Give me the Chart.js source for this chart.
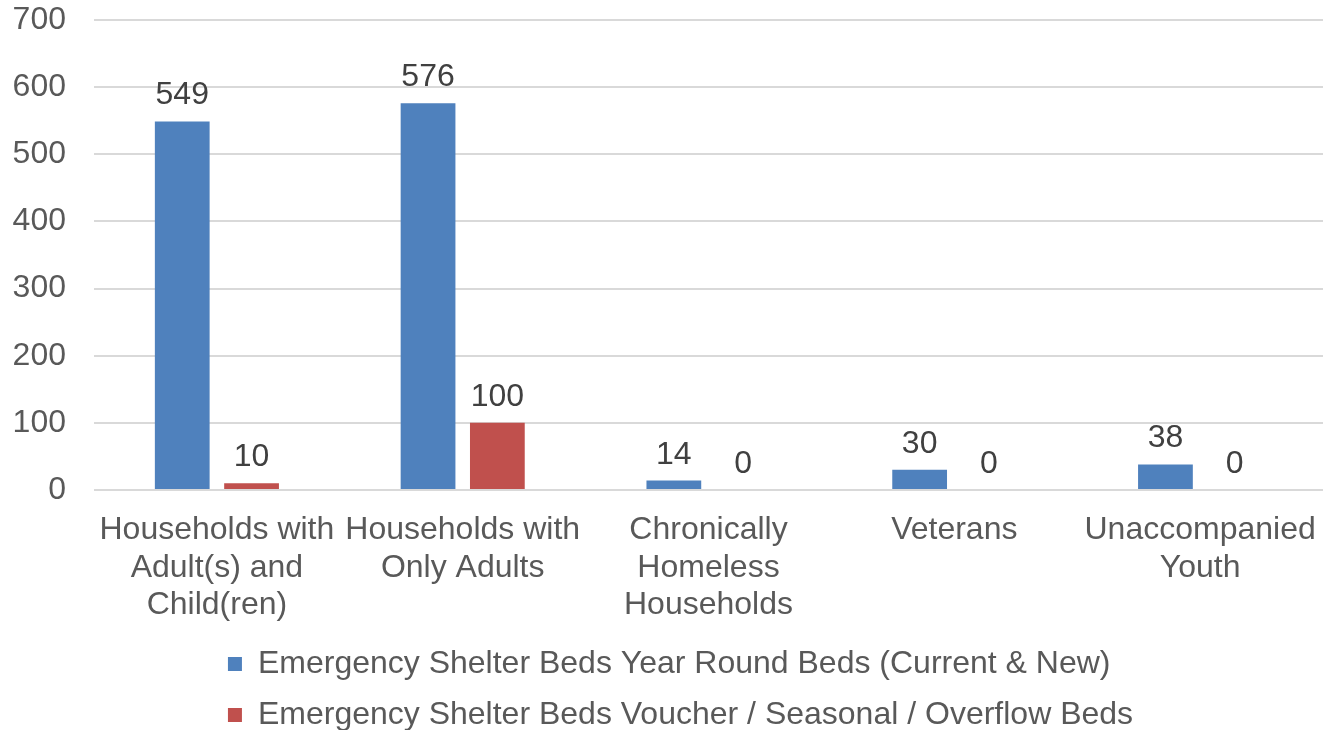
<!DOCTYPE html>
<html>
<head>
<meta charset="utf-8">
<title>Emergency Shelter Beds</title>
<script src="https://cdn.jsdelivr.net/npm/chart.js@4/dist/chart.umd.min.js"></script>
<style>
  html, body { margin: 0; padding: 0; background: #ffffff; }
  #wrap { width: 1325px; height: 730px; }
</style>
</head>
<body>
<div id="wrap"><canvas id="chart" width="1325" height="730"></canvas></div>
<script>
// Household categories (multi-line axis labels)
const categories = [
  ['Households with', 'Adult(s) and', 'Child(ren)'],
  ['Households with', 'Only Adults'],
  ['Chronically', 'Homeless', 'Households'],
  ['Veterans'],
  ['Unaccompanied', 'Youth']
];

const seriesNames = [
  'Emergency Shelter Beds Year Round Beds (Current & New)',
  'Emergency Shelter Beds Voucher / Seasonal / Overflow Beds'
];

const yearRoundBeds = [549, 576, 14, 30, 38];
const seasonalBeds = [10, 100, 0, 0, 0];

const yTicks = [0, 100, 200, 300, 400, 500, 600, 700];

const FONT = '"Liberation Sans", Arial, sans-serif';
const FONT_SIZE = 32;

// Writes each bar's value just above it
const valueLabels = {
  id: 'valueLabels',
  afterDatasetsDraw(chart) {
    const ctx = chart.ctx;
    ctx.save();
    ctx.font = FONT_SIZE + 'px ' + FONT;
    ctx.fillStyle = '#404040';
    ctx.textAlign = 'center';
    ctx.textBaseline = 'alphabetic';
    chart.data.datasets.forEach((ds, i) => {
      const meta = chart.getDatasetMeta(i);
      meta.data.forEach((bar, j) => {
        ctx.fillText(String(ds.data[j]), bar.x, bar.y - 17);
      });
    });
    ctx.restore();
  }
};

// Gives every legend row the same width so the rows share one left edge,
// and nudges the block a little to the right
const legendRows = {
  id: 'legendRows',
  afterLayout(chart) {
    const lg = chart.legend;
    if (lg && lg.lineWidths && lg.lineWidths.length) {
      const w = Math.max(...lg.lineWidths);
      lg.lineWidths = lg.lineWidths.map(() => w);
      lg.left += 19;
      lg.right += 19;
    }
  }
};

new Chart(document.getElementById('chart'), {
  type: 'bar',
  data: {
    labels: categories,
    datasets: [
      {
        label: seriesNames[0],
        data: yearRoundBeds,
        backgroundColor: '#4f81bd',
        categoryPercentage: 0.564,
        barPercentage: 0.79
      },
      {
        label: seriesNames[1],
        data: seasonalBeds,
        backgroundColor: '#c0504d',
        categoryPercentage: 0.564,
        barPercentage: 0.79
      }
    ]
  },
  options: {
    responsive: false,
    animation: false,
    layout: { padding: { left: 0, right: 2, top: 20, bottom: -11 } },
    scales: {
      x: {
        grid: { display: false, drawTicks: false },
        border: { display: false },
        ticks: {
          color: '#595959',
          font: { family: FONT, size: FONT_SIZE, lineHeight: 1.16 },
          padding: 22,
          maxRotation: 0,
          autoSkip: false
        },
        afterFit(scale) {
          scale.height = 139;
          scale.paddingLeft = 0;
          scale.paddingRight = 0;
        }
      },
      y: {
        min: 0,
        max: 700,
        afterBuildTicks(scale) {
          scale.ticks = yTicks.map(v => ({ value: v }));
        },
        grid: { color: '#d9d9d9', lineWidth: 2, drawTicks: false },
        border: { display: false },
        ticks: {
          color: '#595959',
          font: { family: FONT, size: FONT_SIZE },
          padding: 28
        },
        afterFit(scale) {
          scale.width = 94;
          scale.paddingTop = 0;
          scale.paddingBottom = 0;
        }
      }
    },
    plugins: {
      legend: {
        position: 'bottom',
        labels: {
          color: '#595959',
          font: { family: FONT, size: FONT_SIZE },
          boxWidth: 14,
          boxHeight: 14,
          padding: 19
        }
      },
      tooltip: { enabled: false }
    }
  },
  plugins: [valueLabels, legendRows]
});
</script>
</body>
</html>
